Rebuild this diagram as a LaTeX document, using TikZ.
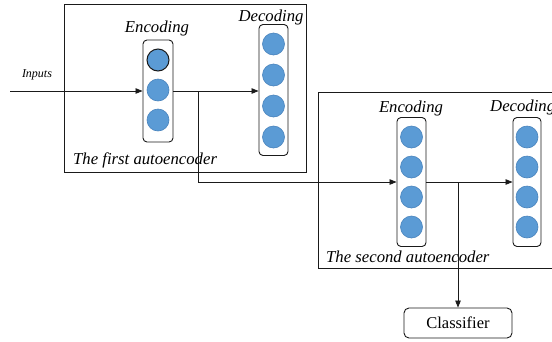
\documentclass[tikz,border=0pt]{standalone}
\usepackage{fontspec}
\setmainfont{Liberation Serif}
\usepackage{xcolor}
\definecolor{aeBlue}{HTML}{5B9BD5}
\definecolor{aeBlueEdge}{HTML}{4A84BD}
\definecolor{aeDark}{HTML}{1A1A1A}
\usetikzlibrary{arrows.meta,positioning,calc}
\tikzset{
    frame/.style={
        draw=aeDark,
        line width=1pt
    },
    column/.style={
        draw=aeDark,
        fill=white,
        rectangle,
        rounded corners=4pt,
        line width=0.9pt
    },
    neuron/.style={
        circle,
        fill=aeBlue,
        draw=aeBlueEdge,
        line width=0.6pt,
        minimum size=22pt,
        inner sep=0pt
    },
    classbox/.style={
        draw=aeDark,
        fill=white,
        rectangle,
        rounded corners=5pt,
        minimum width=108pt,
        minimum height=30pt,
        line width=0.9pt,
        font=\fontsize{16.5}{18}\selectfont
    },
    arrow/.style={
        -{Triangle[length=7pt,width=5.5pt]},
        line width=0.8pt,
        color=aeDark
    },
    caption/.style={
        font=\fontsize{16.7}{18}\selectfont\itshape,
        inner sep=0pt
    }
}

\begin{document}
\begin{tikzpicture}[x=1pt,y=-1pt]
    \useasboundingbox (0,0) rectangle (552,341);

    % first autoencoder
    \draw[frame] (64,4) rectangle (306,172);
    \node[column, minimum width=30pt, minimum height=102pt] (enc1) at (158,91) {};
    \node[column, minimum width=29pt, minimum height=131pt] (dec1) at (273.5,90) {};
    \node[neuron, draw=aeDark, line width=1pt] (e1n1) at (158,60) {};
    \foreach \y [count=\i from 2] in {90,120}
        \node[neuron] (e1n\i) at (158,\y) {};
    \foreach \y [count=\i] in {44,75,106,137}
        \node[neuron] (d1n\i) at (273.5,\y) {};
    \node[caption] (enc1lbl) at (157,28) {Encoding};
    \node[caption] (dec1lbl) at (271,17) {Decoding};
    \node[caption, anchor=west] (first) at (73,160) {The first autoencoder};

    % second autoencoder
    \draw[frame] (318,92) rectangle (580,268);
    \node[column, minimum width=29pt, minimum height=129pt] (enc2) at (411.5,182) {};
    \node[column, minimum width=28pt, minimum height=129pt] (dec2) at (527,182) {};
    \foreach \y [count=\i] in {137,167,197,227}{
        \node[neuron] (e2n\i) at (411.5,\y) {};
        \node[neuron] (d2n\i) at (527,\y) {};
    }
    \node[caption] (enc2lbl) at (411,108) {Encoding};
    \node[caption, anchor=west] (dec2lbl) at (490,107) {Decoding};
    \node[caption, anchor=west] (second) at (326,257) {The second autoencoder};

    % classifier
    \node[classbox] (clf) at (458,323) {Classifier};

    % connections
    \node[font=\fontsize{12}{14}\selectfont\itshape, inner sep=0pt] (inputs) at (37,75) {Inputs};
    \coordinate (in) at (10,91);
    \coordinate (b1) at (198,91);
    \coordinate (b2) at (458,182);
    \draw[arrow] (in) -- (in -| enc1.west);
    \draw[arrow] (enc1.east |- in) -- (in -| dec1.west);
    \draw[arrow] (b1) |- (enc2.west);
    \draw[arrow] (enc2.east) -- (dec2.west);
    \draw[arrow] (b2) -- (clf.north);
\end{tikzpicture}
\end{document}
